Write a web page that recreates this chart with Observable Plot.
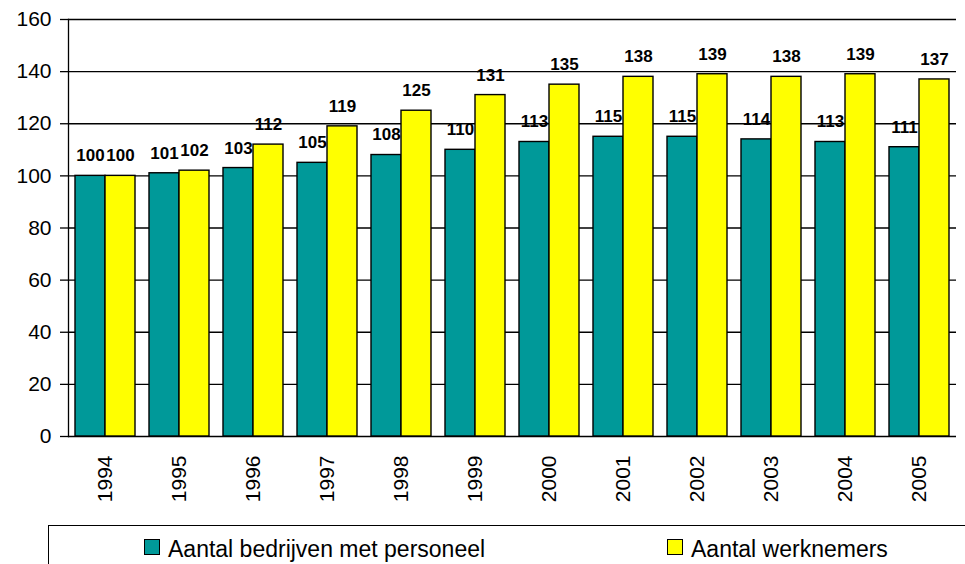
<!DOCTYPE html>
<html>
<head>
<meta charset="utf-8">
<script src="https://cdn.jsdelivr.net/npm/d3@7"></script>
<script src="https://cdn.jsdelivr.net/npm/@observablehq/plot@0.6"></script>
<style>
  html, body { margin: 0; padding: 0; background: #fff; }
  body { width: 965px; height: 564px; overflow: hidden; position: relative; font-family: Arial, "Liberation Sans", sans-serif; }
  #legend { position: absolute; left: 48px; top: 525px; width: 940px; height: 60px; border-top: 1px solid #000; border-left: 1px solid #000; box-sizing: border-box; }
  .item { position: absolute; top: 13px; font-size: 23px; line-height: 17px; color: #000; white-space: nowrap; }
  .sw { display: inline-block; width: 14px; height: 14px; border: 1px solid #000; vertical-align: top; margin-right: 8px; margin-top: 0px; }
  .lt { position: relative; top: 2px; }
</style>
</head>
<body>
<div id="chart"></div>
<div id="legend"></div>
<script>
const years = ["1994","1995","1996","1997","1998","1999","2000","2001","2002","2003","2004","2005"];
const bedrijven = [100,101,103,105,108,110,113,115,115,114,113,111];
const werknemers = [100,102,112,119,125,131,135,138,139,138,139,137];
const seriesNames = ["Aantal bedrijven met personeel", "Aantal werknemers"];
const seriesColors = ["#009999", "#ffff00"];
const yTicks = [0,20,40,60,80,100,120,140,160];

const dataB = years.map((y, i) => ({year: y, value: bedrijven[i]}));
const dataW = years.map((y, i) => ({year: y, value: werknemers[i]}));

const font = 'Arial, "Liberation Sans", sans-serif';

const chart = Plot.plot({
  width: 965,
  height: 525,
  marginLeft: 68,
  marginRight: 9,
  marginTop: 19,
  marginBottom: 89,
  style: {fontFamily: font, background: "#fff", overflow: "visible"},
  x: {type: "band", domain: years, paddingInner: 14/74, paddingOuter: 7/74, label: null},
  y: {domain: [0, 160], label: null},
  marks: [
    Plot.ruleY(yTicks, {stroke: "#000", strokeWidth: 1.3}),
    Plot.frame({anchor: "left", stroke: "#000", strokeWidth: 1.3}),
    Plot.barY(dataB, {x: "year", y: "value", fill: seriesColors[0], stroke: "#000", strokeWidth: 1.4, insetRight: 30}),
    Plot.barY(dataW, {x: "year", y: "value", fill: seriesColors[1], stroke: "#000", strokeWidth: 1.4, insetLeft: 30}),
    Plot.text(dataB, {x: "year", y: "value", text: d => String(d.value), dx: -15, dy: -20, fontWeight: "bold", fontSize: 17, fill: "#000"}),
    Plot.text(dataW, {x: "year", y: "value", text: d => String(d.value), dx: 15, dy: -20, fontWeight: "bold", fontSize: 17, fill: "#000"}),
    Plot.axisY({ticks: yTicks, tickSize: 8, tickPadding: 9, fontSize: 21, stroke: "#000", strokeWidth: 1.3, fill: "#000"}),
    Plot.axisX({tickSize: 0, tickRotate: -90, tickPadding: 19, fontSize: 21, fill: "#000"})
  ]
});
document.getElementById("chart").appendChild(chart);

const legend = document.getElementById("legend");
const lefts = [95, 618];
seriesNames.forEach((name, i) => {
  const it = document.createElement("div");
  it.className = "item";
  it.style.left = lefts[i] + "px";
  const sw = document.createElement("span");
  sw.className = "sw";
  sw.style.background = seriesColors[i];
  it.appendChild(sw);
  const t = document.createElement("span");
  t.className = "lt";
  t.textContent = name;
  it.appendChild(t);
  legend.appendChild(it);
});
</script>
</body>
</html>
